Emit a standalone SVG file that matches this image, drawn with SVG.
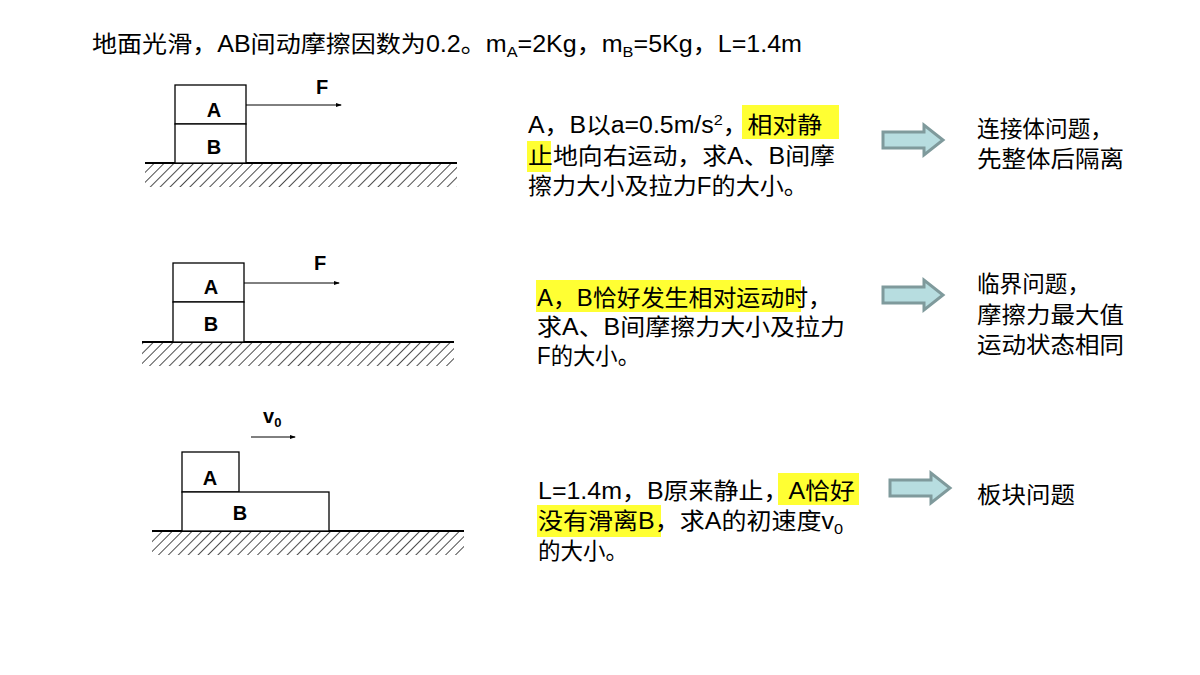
<svg xmlns="http://www.w3.org/2000/svg" width="1200" height="675" viewBox="0 0 1200 675">
<defs>
<pattern id="h" width="7" height="7" patternUnits="userSpaceOnUse" patternTransform="rotate(45)"><line x1="0" y1="0" x2="0" y2="7" stroke="#000" stroke-width="1.4"/></pattern>
<marker id="m" markerWidth="6" markerHeight="6" refX="5" refY="3" orient="auto"><path d="M0,1 L6,3 L0,5z" fill="#000"/></marker>
<path id="ba" d="M0,7 H41 V0 L60,15 L41,30 V23 H0z"/>
</defs>
<style>
.t{font-family:"Liberation Sans","Noto Sans CJK SC",sans-serif;font-size:23px;fill:#000}
.b{font-family:"Liberation Sans",sans-serif;font-size:20px;font-weight:bold;text-anchor:middle}
.bx{fill:#fff;stroke:#000;stroke-width:1.3}
.hl{fill:#ffff33}
.ar{fill:#b7dde0;stroke:#7f9a9c;stroke-width:3}
</style>
<rect width="1200" height="675" fill="#fff"/>
<text class="t" x="92" y="52" textLength="710" lengthAdjust="spacingAndGlyphs">地面光滑，AB间动摩擦因数为0.2。m<tspan font-size="15" dy="5">A</tspan><tspan dy="-5">=2Kg，m</tspan><tspan font-size="15" dy="5">B</tspan><tspan dy="-5">=5Kg，L=1.4m</tspan></text>
<g id="fig1">
<rect x="145" y="164" width="312" height="23" fill="url(#h)"/><line x1="145" y1="163" x2="457" y2="163" stroke="#000" stroke-width="2"/>
<rect class="bx" x="175" y="85" width="71" height="39"/><rect class="bx" x="175" y="124" width="71" height="39"/>
<text class="b" x="214" y="117">A</text><text class="b" x="214" y="154">B</text>
<line x1="246" y1="105" x2="341" y2="105" stroke="#000" marker-end="url(#m)"/><text class="b" x="322" y="94">F</text>
</g>
<g id="fig2">
<rect x="142" y="343" width="312" height="23" fill="url(#h)"/><line x1="142" y1="342" x2="454" y2="342" stroke="#000" stroke-width="2"/>
<rect class="bx" x="173" y="263" width="71" height="39"/><rect class="bx" x="173" y="302" width="71" height="40"/>
<text class="b" x="211" y="294">A</text><text class="b" x="211" y="331">B</text>
<line x1="244" y1="283" x2="339" y2="283" stroke="#000" marker-end="url(#m)"/><text class="b" x="320" y="270">F</text>
</g>
<g id="fig3">
<rect x="152" y="532" width="312" height="23" fill="url(#h)"/><line x1="152" y1="531" x2="464" y2="531" stroke="#000" stroke-width="2"/>
<rect class="bx" x="182" y="452" width="57" height="40"/><rect class="bx" x="182" y="492" width="147" height="39"/>
<text class="b" x="210" y="485">A</text><text class="b" x="240" y="520">B</text>
<line x1="251" y1="437" x2="295" y2="437" stroke="#000" marker-end="url(#m)"/>
<text class="b" style="text-anchor:start"><tspan x="263" y="423">v</tspan><tspan font-size="13" dy="4">0</tspan></text>
</g>
<g id="text1">
<rect class="hl" x="742" y="105" width="97" height="34"/><rect class="hl" x="527" y="141" width="24" height="31"/>
<text class="t" x="528" y="133" textLength="294" lengthAdjust="spacingAndGlyphs">A，B以a=0.5m/s<tspan font-size="15" dy="-8">2</tspan><tspan dy="8">，相对静</tspan></text>
<text class="t" x="528" y="164" textLength="307" lengthAdjust="spacingAndGlyphs">止地向右运动，求A、B间摩</text>
<text class="t" x="528" y="194" textLength="280" lengthAdjust="spacingAndGlyphs">擦力大小及拉力F的大小。</text>
</g>
<g id="text2">
<rect class="hl" x="536" y="280" width="265" height="32"/>
<text class="t" x="537" y="306" textLength="295" lengthAdjust="spacingAndGlyphs">A，B恰好发生相对运动时，</text>
<text class="t" x="537" y="335" textLength="308" lengthAdjust="spacingAndGlyphs">求A、B间摩擦力大小及拉力</text>
<text class="t" x="537" y="364" textLength="103" lengthAdjust="spacingAndGlyphs">F的大小。</text>
</g>
<g id="text3">
<rect class="hl" x="778" y="473" width="81" height="32"/><rect class="hl" x="537" y="505" width="124" height="32"/>
<text class="t" x="538" y="499" textLength="317" lengthAdjust="spacingAndGlyphs">L=1.4m，B原来静止，A恰好</text>
<text class="t" x="538" y="529" textLength="305" lengthAdjust="spacingAndGlyphs">没有滑离B，求A的初速度v<tspan font-size="15" dy="5">0</tspan></text>
<text class="t" x="538" y="559" textLength="90" lengthAdjust="spacingAndGlyphs">的大小。</text>
</g>
<g id="connectors">
<use href="#ba" class="ar" transform="translate(883,125)"/>
<use href="#ba" class="ar" transform="translate(883,280)"/>
<use href="#ba" class="ar" transform="translate(890,473)"/>
</g>
<g id="note1"><text class="t" x="977" y="137" textLength="136" lengthAdjust="spacingAndGlyphs">连接体问题，</text><text class="t" x="977" y="167" textLength="147" lengthAdjust="spacingAndGlyphs">先整体后隔离</text></g>
<g id="note2"><text class="t" x="977" y="292" textLength="113" lengthAdjust="spacingAndGlyphs">临界问题，</text><text class="t" x="977" y="323" textLength="147" lengthAdjust="spacingAndGlyphs">摩擦力最大值</text><text class="t" x="977" y="353" textLength="147" lengthAdjust="spacingAndGlyphs">运动状态相同</text></g>
<g id="note3"><text class="t" x="977" y="503" textLength="98" lengthAdjust="spacingAndGlyphs">板块问题</text></g>
</svg>
